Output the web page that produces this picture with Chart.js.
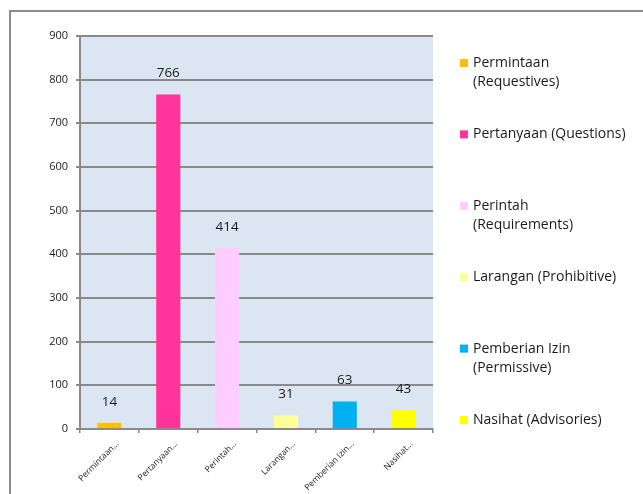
<!DOCTYPE html>
<html>
<head>
<meta charset="utf-8">
<script src="https://cdn.jsdelivr.net/npm/chart.js@4.4.0/dist/chart.umd.min.js"></script>
<style>
  html, body { margin: 0; padding: 0; background: #fff; }
  #wrap { width: 643px; height: 494px; position: relative; }
</style>
</head>
<body>
<div id="wrap"><canvas id="speechChart" width="643" height="494"></canvas></div>
<script>
// --- data ---
const categories = ['Permintaan (Requestives)', 'Pertanyaan (Questions)', 'Perintah (Requirements)',
                    'Larangan (Prohibitive)', 'Pemberian Izin (Permissive)', 'Nasihat (Advisories)'];
const tickLabels = ['Permintaan…', 'Pertanyaan…', 'Perintah…', 'Larangan…', 'Pemberian Izin…', 'Nasihat…'];
const legendLines = [['Permintaan', '(Requestives)'], ['Pertanyaan (Questions)'], ['Perintah', '(Requirements)'],
                     ['Larangan (Prohibitive)'], ['Pemberian Izin', '(Permissive)'], ['Nasihat (Advisories)']];
const values = [14, 766, 414, 31, 63, 43];
const barColors = ['#FFC000', '#FF3399', '#FFCCFF', '#FFFF99', '#00B0F0', '#FFFF00'];
const yTicks = [0, 100, 200, 300, 400, 500, 600, 700, 800, 900];

const FONT = '"Open Sans", Lato, sans-serif';
const GRID = '#8a8a8a';
const TEXT = '#1a1a1a';

// frame + plot background
const backdrop = {
    id: 'backdrop',
    beforeDraw(chart) {
        const { ctx, chartArea: a } = chart;
        ctx.save();
        ctx.fillStyle = '#fff';
        ctx.fillRect(0, 0, chart.width, chart.height);
        ctx.strokeStyle = '#8c8c8c';
        ctx.lineWidth = 2;
        ctx.strokeRect(10, 11, 700, 600);
        ctx.fillStyle = '#DCE6F2';
        ctx.fillRect(a.left, a.top, a.right - a.left, a.bottom - a.top);
        ctx.restore();
    }
};

// value labels above bars
const valueLabels = {
    id: 'valueLabels',
    afterDatasetsDraw(chart) {
        const { ctx } = chart;
        const meta = chart.getDatasetMeta(0);
        ctx.save();
        ctx.font = '13.5px ' + FONT;
        ctx.fillStyle = TEXT;
        ctx.textAlign = 'center';
        ctx.textBaseline = 'middle';
        meta.data.forEach((bar, i) => {
            ctx.fillText(String(values[i]), bar.x, bar.y - 21);
        });
        ctx.restore();
    }
};

// side legend, one entry per category, wrapped text
const sideLegend = {
    id: 'sideLegend',
    afterDraw(chart) {
        const { ctx } = chart;
        const x0 = 460, y0 = 63, step = 71.4, lineH = 19.5;
        ctx.save();
        ctx.font = '14px ' + FONT;
        ctx.textBaseline = 'middle';
        ctx.textAlign = 'left';
        legendLines.forEach((lines, i) => {
            const y = y0 + i * step;
            ctx.fillStyle = barColors[i];
            ctx.fillRect(x0, y - 4, 8, 8);
            ctx.fillStyle = TEXT;
            lines.forEach((t, k) => ctx.fillText(t, x0 + 13, y + k * lineH));
        });
        ctx.restore();
    }
};

new Chart(document.getElementById('speechChart'), {
    type: 'bar',
    data: {
        labels: tickLabels,
        datasets: [{
            label: 'Jumlah',
            data: values,
            backgroundColor: barColors,
            borderWidth: 0,
            categoryPercentage: 1,
            barPercentage: 0.41
        }]
    },
    options: {
        responsive: false,
        animation: false,
        layout: { padding: { left: 0, top: 36, right: 210, bottom: 0 } },
        plugins: { legend: { display: false }, tooltip: { enabled: false } },
        scales: {
            x: {
                afterFit(scale) { scale.height = 65; },
                grid: { drawOnChartArea: false, drawTicks: true, tickLength: 4, color: GRID, lineWidth: 1.5 },
                border: { display: true, color: GRID, width: 2 },
                ticks: { color: TEXT, font: { size: 8.5, family: FONT }, minRotation: 45, maxRotation: 45,
                         autoSkip: false, padding: 6, labelOffset: 8 }
            },
            y: {
                min: 0, max: 900,
                afterFit(scale) { scale.width = 80; },
                afterBuildTicks(scale) { scale.ticks = yTicks.map(v => ({ value: v })); },
                grid: { color: GRID, lineWidth: 2, tickLength: 4 },
                border: { display: true, color: GRID, width: 2 },
                ticks: { color: TEXT, font: { size: 11, family: FONT }, padding: 8 }
            }
        }
    },
    plugins: [backdrop, valueLabels, sideLegend]
});
</script>
</body>
</html>
